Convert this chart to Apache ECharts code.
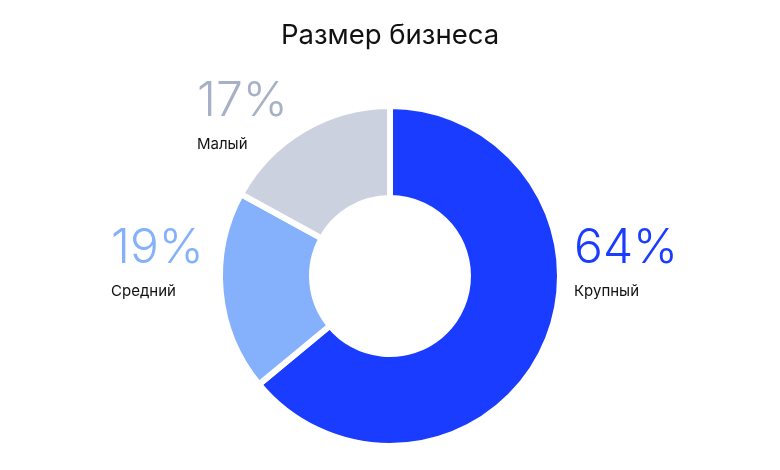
<!DOCTYPE html>
<html>
<head>
<meta charset="utf-8">
<script src="https://cdn.jsdelivr.net/npm/echarts@6/dist/echarts.min.js"></script>
<style>
  html, body { margin: 0; padding: 0; background: #fff; }
  #chart { width: 780px; height: 470px; }
</style>
</head>
<body>
<div id="chart"></div>
<script>
// данные
var categories = ['Крупный', 'Средний', 'Малый'];
var shares = [64, 19, 17];
var sliceColors = ['#1a3cff', '#84b0fc', '#cbd1de'];
var pctColors = ['#1a3cff', '#84b0fc', '#a7b1c5'];

// позиции подписей (левый верхний угол блока)
var labelPos = [[574, 221], [111, 221], [197, 74]];

var chart = echarts.init(document.getElementById('chart'));

var option = {
  title: {
    text: 'Размер бизнеса',
    left: 'center',
    top: 17,
    textStyle: {
      fontFamily: 'Inter',
      fontSize: 27.5,
      fontWeight: 400,
      color: '#111111'
    }
  },
  series: [{
    type: 'pie',
    center: [390, 276],
    radius: [78, 170],
    startAngle: 90,
    clockwise: true,
    silent: true,
    itemStyle: {
      borderColor: '#ffffff',
      borderWidth: 6
    },
    labelLine: { show: false },
    label: {
      show: true,
      position: 'outside',
      formatter: function (p) {
        return '{pct' + p.dataIndex + '|' + p.value + '%}\n{name|' + p.name + '}';
      },
      rich: {
        pct0: { fontFamily: 'Inter', fontSize: 48, fontWeight: 300, color: pctColors[0], lineHeight: 56 },
        pct1: { fontFamily: 'Inter', fontSize: 48, fontWeight: 300, color: pctColors[1], lineHeight: 56 },
        pct2: { fontFamily: 'Inter', fontSize: 48, fontWeight: 300, color: pctColors[2], lineHeight: 56 },
        name: { fontFamily: 'Inter', fontSize: 15, fontWeight: 400, color: '#111111', lineHeight: 29 }
      }
    },
    labelLayout: function (params) {
      var pos = labelPos[params.dataIndex];
      return { x: pos[0], y: pos[1], align: 'left', verticalAlign: 'top' };
    },
    data: categories.map(function (name, i) {
      return { name: name, value: shares[i], itemStyle: { color: sliceColors[i] } };
    })
  }]
};

chart.setOption(option);
</script>
</body>
</html>
